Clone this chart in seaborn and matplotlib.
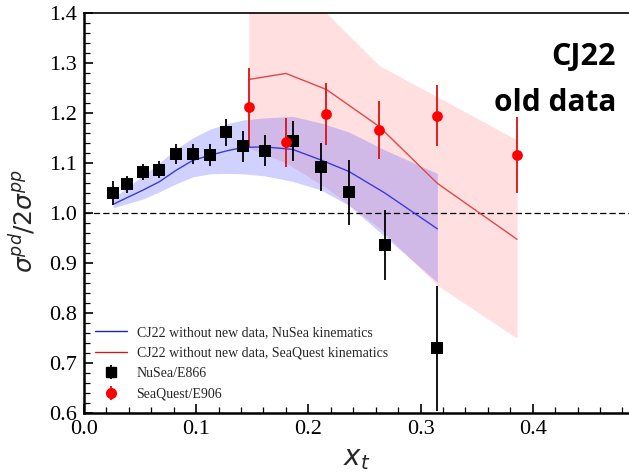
import matplotlib
matplotlib.use("Agg")
import matplotlib.pyplot as plt
import seaborn as sns
import pandas as pd
from matplotlib.ticker import MultipleLocator
from matplotlib.lines import Line2D

# NuSea/E866 measured ratio
nusea_x = [0.026, 0.038, 0.053, 0.067, 0.082, 0.097, 0.112, 0.127, 0.142, 0.161, 0.186, 0.211, 0.236, 0.268, 0.315]
nusea_r = [1.039, 1.057, 1.082, 1.086, 1.117, 1.117, 1.116, 1.161, 1.133, 1.124, 1.144, 1.091, 1.041, 0.935, 0.729]
nusea_err = [0.024, 0.017, 0.016, 0.017, 0.020, 0.020, 0.022, 0.027, 0.031, 0.031, 0.040, 0.048, 0.065, 0.070, 0.125]

# SeaQuest/E906 measured ratio
seaquest_x = [0.147, 0.180, 0.216, 0.263, 0.315, 0.386]
seaquest_r = [1.211, 1.141, 1.197, 1.166, 1.194, 1.115]
seaquest_err = [0.079, 0.049, 0.062, 0.058, 0.061, 0.076]

# CJ22 (without new data) at NuSea kinematics: central value and uncertainty band
cj_nusea = [1.017, 1.030, 1.046, 1.062, 1.085, 1.105, 1.115, 1.124, 1.131, 1.132, 1.127, 1.106, 1.083, 1.040, 0.968]
cj_nusea_lo = [1.010, 1.018, 1.028, 1.042, 1.058, 1.072, 1.078, 1.079, 1.078, 1.074, 1.063, 1.046, 1.015, 0.953, 0.861]
cj_nusea_hi = [1.030, 1.050, 1.075, 1.100, 1.127, 1.150, 1.167, 1.178, 1.186, 1.190, 1.193, 1.180, 1.162, 1.126, 1.079]

# CJ22 (without new data) at SeaQuest kinematics
cj_seaquest = [1.267, 1.279, 1.247, 1.173, 1.059, 0.947]
cj_seaquest_lo = [1.13, 1.10, 1.05, 0.97, 0.855, 0.749]
cj_seaquest_hi = [1.46, 1.45, 1.40, 1.295, 1.232, 1.146]

legend_labels = [
    "CJ22 without new data, NuSea kinematics",
    "CJ22 without new data, SeaQuest kinematics",
    "NuSea/E866",
    "SeaQuest/E906",
]

sns.set_theme(style="ticks")
plt.rcParams["font.family"] = "serif"
plt.rcParams["font.serif"] = ["Liberation Serif", "DejaVu Serif"]
plt.rcParams["mathtext.fontset"] = "dejavusans"

nusea_df = pd.DataFrame({"x": nusea_x, "r": nusea_r, "cj": cj_nusea})
sq_df = pd.DataFrame({"x": seaquest_x, "r": seaquest_r, "cj": cj_seaquest})

fig = plt.figure(figsize=(6.29, 4.72), dpi=100)
ax = fig.add_axes([0.1335, 0.1256, 0.8665, 0.8469])

blue_line = "#3a3ae0"
red_line = "#e04848"

# uncertainty bands
ax.fill_between(seaquest_x, cj_seaquest_lo, cj_seaquest_hi, color="#ff6060", alpha=0.2, lw=0, zorder=1)
ax.fill_between(nusea_x, cj_nusea_lo, cj_nusea_hi, color="#4848ff", alpha=0.25, lw=0, zorder=1)

# central curves
sns.lineplot(data=nusea_df, x="x", y="cj", ax=ax, color=blue_line, lw=1.0, zorder=3)
sns.lineplot(data=sq_df, x="x", y="cj", ax=ax, color=red_line, lw=1.0, zorder=3)

ax.axhline(1.0, color="black", lw=0.9, ls=(0, (5, 2.5)), zorder=2)

# data with error bars
ax.errorbar(nusea_x, nusea_r, yerr=nusea_err, fmt="none", ecolor="black", elinewidth=1.3, capsize=0, zorder=4)
ax.errorbar(seaquest_x, seaquest_r, yerr=seaquest_err, fmt="none", ecolor="#dd1010", elinewidth=1.3, capsize=0, zorder=4)
sns.scatterplot(data=nusea_df, x="x", y="r", ax=ax, marker="s", s=75, color="black", edgecolor="black", linewidth=0, zorder=5)
sns.scatterplot(data=sq_df, x="x", y="r", ax=ax, marker="o", s=60, color="#ff0000", edgecolor="#ff0000", linewidth=0, zorder=5)

ax.set_xlim(0.0, 0.4858)
ax.set_ylim(0.6, 1.4)
ax.xaxis.set_major_locator(MultipleLocator(0.1))
ax.xaxis.set_minor_locator(MultipleLocator(0.02))
ax.yaxis.set_major_locator(MultipleLocator(0.1))
ax.yaxis.set_minor_locator(MultipleLocator(0.02))
ax.xaxis.set_major_formatter(plt.FuncFormatter(lambda v, p: f"{v:.1f}"))
ax.yaxis.set_major_formatter(plt.FuncFormatter(lambda v, p: f"{v:.1f}"))
ax.tick_params(which="both", direction="in", top=False, right=False, colors="black",
               labelsize=16, labelfontfamily="Liberation Serif")
ax.tick_params(which="major", length=6.5, width=1.2)
ax.tick_params(which="minor", length=4, width=0.9)
ax.tick_params(axis="y", pad=5)
ax.tick_params(axis="x", pad=5)
for side in ["left", "bottom"]:
    ax.spines[side].set_linewidth(1.8)
    ax.spines[side].set_color("black")
ax.spines["top"].set_linewidth(1.2)
ax.spines["top"].set_color("black")
ax.spines["right"].set_visible(False)

ax.set_xlabel(r"$x_t$", fontsize=20, labelpad=6)
ax.set_ylabel(r"$\sigma^{pd}/2\sigma^{pp}$", fontsize=18)
ax.yaxis.set_label_coords(-0.085, 0.48)

handles = [
    Line2D([], [], color="#2020c0", lw=1.0),
    Line2D([], [], color="#c02020", lw=1.0),
    ax.errorbar([], [], yerr=[], fmt="s", color="black", ms=7, elinewidth=1.3, capsize=0),
    ax.errorbar([], [], yerr=[], fmt="o", color="#ff0000", ms=7, elinewidth=1.3, capsize=0),
]
ax.legend(handles, legend_labels, loc="lower left", bbox_to_anchor=(0.02, 0.03),
          frameon=False, fontsize=10, handlelength=2.3, handletextpad=0.7,
          labelspacing=0.55, borderpad=0, borderaxespad=0)

fig.text(616 / 629, 1 - 65 / 472, "CJ22", ha="right", va="baseline",
         fontfamily=["Open Sans", "DejaVu Sans"], fontweight="bold", fontsize=22, color="black")
fig.text(616 / 629, 1 - 111 / 472, "old data", ha="right", va="baseline",
         fontfamily=["Open Sans", "DejaVu Sans"], fontweight="bold", fontsize=21.5, color="black")

fig.savefig("out.png", dpi=100)
